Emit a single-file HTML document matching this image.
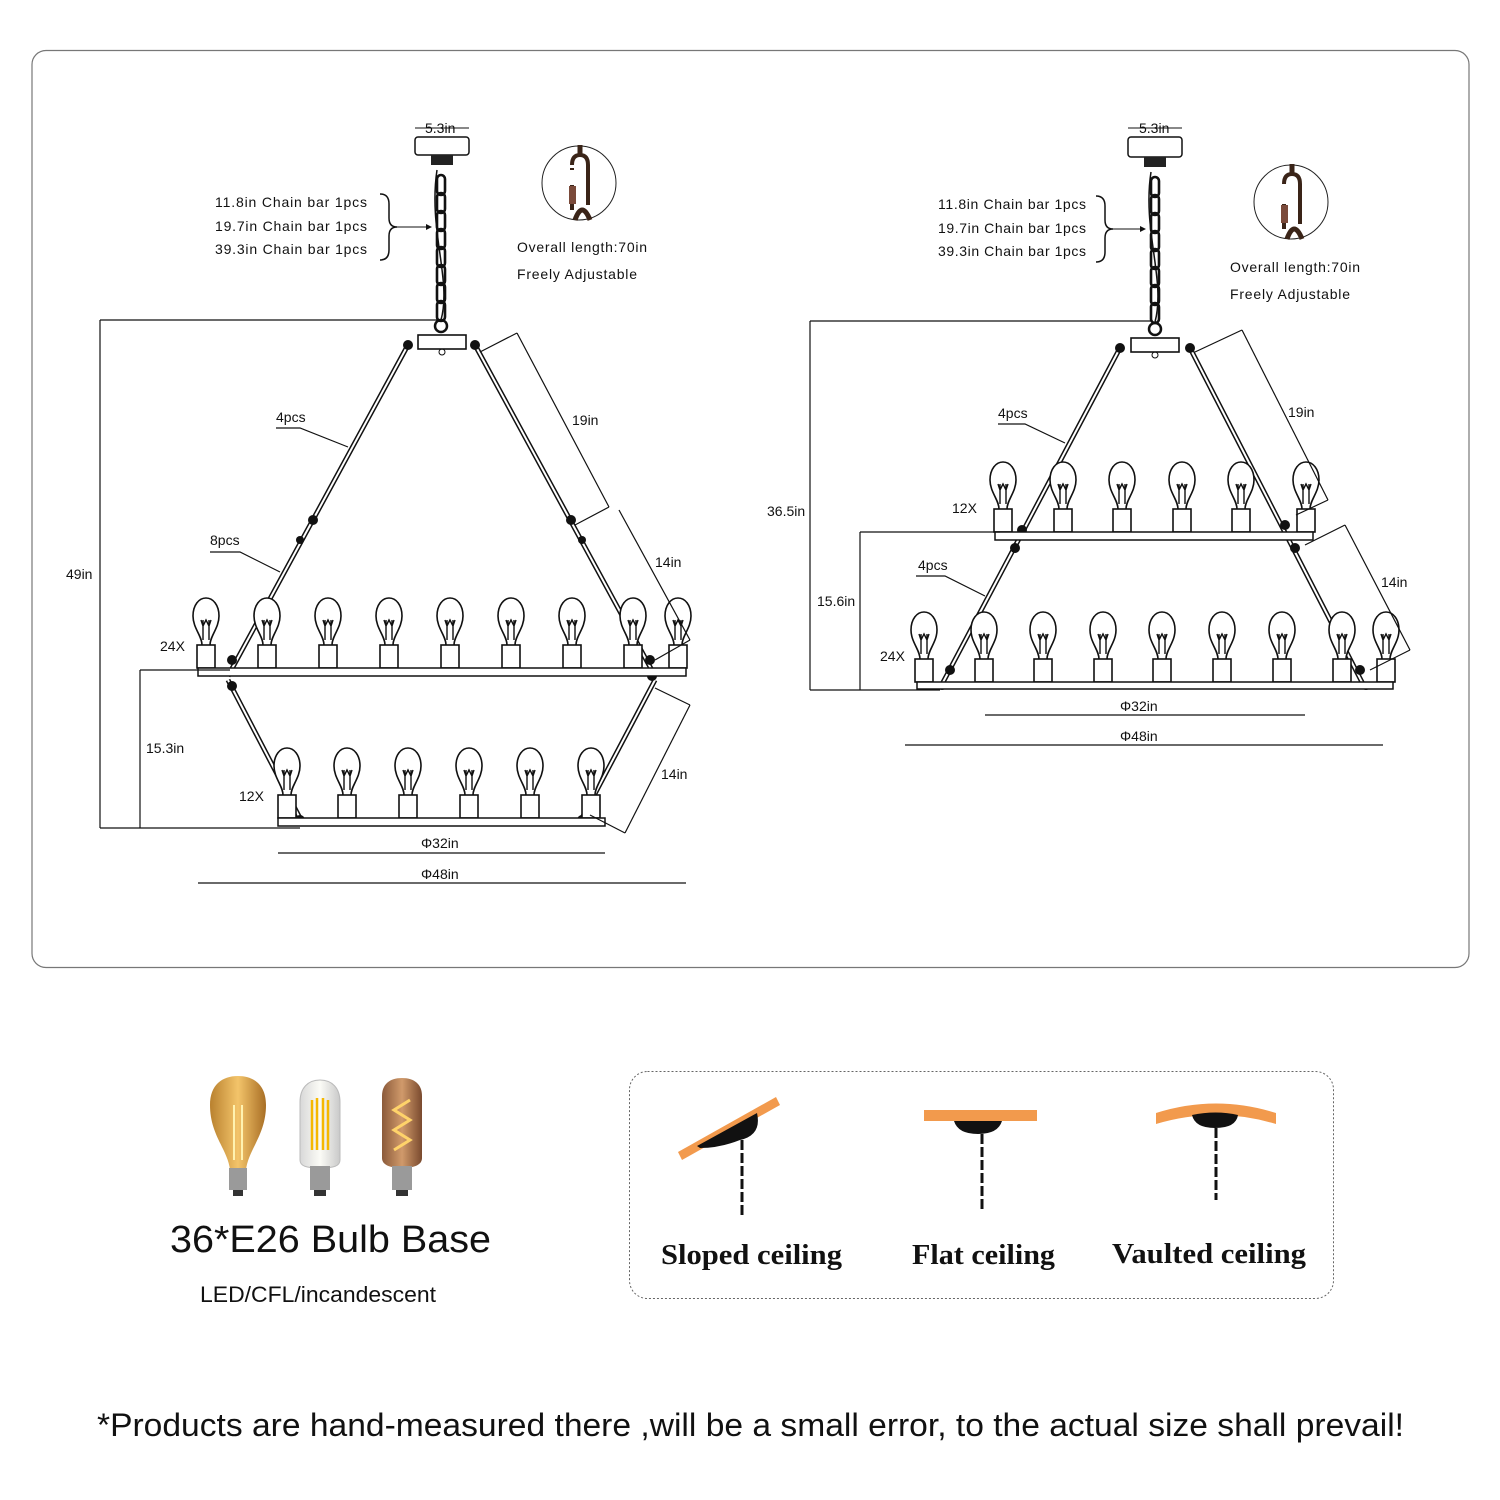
<!DOCTYPE html>
<html><head><meta charset="utf-8"><style>
html,body{margin:0;padding:0;background:#fff}
svg{display:block}
text{font-family:"Liberation Sans",sans-serif;fill:#111}
</style></head><body>
<svg width="1500" height="1500" viewBox="0 0 1500 1500" xmlns="http://www.w3.org/2000/svg">
<defs>
<g id="b" fill="none" stroke="#111" stroke-width="1.6">
<path d="M-4,-23 C-4,-32 -13,-40 -13,-52 C-13,-63 -7,-70 0,-70 C7,-70 13,-63 13,-52 C13,-40 4,-32 4,-23" fill="#fff"/>
<rect x="-9" y="-23" width="18" height="23" fill="#fff"/>
<path d="M-3,-28 L-3,-48 M3,-28 L3,-48 M-5,-48 L-3,-42 L0,-48 L3,-42 L5,-48" stroke-width="1.4"/>
</g>
<g id="ch" fill="none" stroke="#111" stroke-width="2.6">
<rect x="-4" y="0" width="8" height="20" rx="4"/>
</g>
<linearGradient id="amb" x1="0" x2="1"><stop offset="0" stop-color="#b9812f"/><stop offset=".5" stop-color="#f3c46a"/><stop offset="1" stop-color="#a86e25"/></linearGradient>
<linearGradient id="clr" x1="0" x2="1"><stop offset="0" stop-color="#d8d8d8"/><stop offset=".5" stop-color="#fbfbf6"/><stop offset="1" stop-color="#c9c9c9"/></linearGradient>
<linearGradient id="cop" x1="0" x2="1"><stop offset="0" stop-color="#8b5a3a"/><stop offset=".5" stop-color="#d09a6b"/><stop offset="1" stop-color="#7a4a2e"/></linearGradient>
</defs>

<rect x="32" y="50.5" width="1437" height="917" rx="14" fill="none" stroke="#777" stroke-width="1.2"/>

<!-- ============ LEFT DRAWING ============ -->
<g>
<line x1="415" y1="128" x2="469" y2="128" stroke="#111"/>
<text x="425" y="133" font-size="14">5.3in</text>
<rect x="415" y="137" width="54" height="18" rx="3" fill="#fff" stroke="#111" stroke-width="1.5"/>
<rect x="431" y="155" width="22" height="10" fill="#222"/>
<g transform="translate(441,175)"><use href="#ch"/><use href="#ch" y="36"/><use href="#ch" y="72"/><use href="#ch" y="108"/></g>
<g transform="translate(441,193)"><use href="#ch"/><use href="#ch" y="36"/><use href="#ch" y="72"/><use href="#ch" y="108"/></g>
<path d="M437,170 C428,230 452,280 441,320" fill="none" stroke="#111" stroke-width="1.5"/>
<circle cx="441" cy="326" r="6" fill="none" stroke="#111" stroke-width="2.5"/>
<rect x="418" y="335" width="48" height="14" fill="#fff" stroke="#111" stroke-width="1.6"/>
<circle cx="442" cy="352" r="3" fill="none" stroke="#111"/>
<g stroke="#111" stroke-width="5" fill="none"><line x1="408" y1="345" x2="228" y2="676"/><line x1="475" y1="345" x2="655" y2="676"/><line x1="228" y1="680" x2="302" y2="822"/><line x1="655" y1="680" x2="580" y2="822"/></g>
<g stroke="#fff" stroke-width="2" fill="none"><line x1="408" y1="345" x2="228" y2="676"/><line x1="475" y1="345" x2="655" y2="676"/><line x1="228" y1="680" x2="302" y2="822"/><line x1="655" y1="680" x2="580" y2="822"/></g>
<g fill="#111"><circle cx="408" cy="345" r="5"/><circle cx="475" cy="345" r="5"/><circle cx="313" cy="520" r="5"/><circle cx="571" cy="520" r="5"/><circle cx="300" cy="540" r="4"/><circle cx="582" cy="540" r="4"/><circle cx="232" cy="660" r="5"/><circle cx="650" cy="660" r="5"/><circle cx="232" cy="686" r="5"/><circle cx="652" cy="676" r="5"/><circle cx="300" cy="820" r="5"/><circle cx="582" cy="820" r="5"/></g>
<g><use href="#b" x="206" y="668"/><use href="#b" x="267" y="668"/><use href="#b" x="328" y="668"/><use href="#b" x="389" y="668"/><use href="#b" x="450" y="668"/><use href="#b" x="511" y="668"/><use href="#b" x="572" y="668"/><use href="#b" x="633" y="668"/><use href="#b" x="678" y="668"/></g>
<rect x="198" y="668" width="488" height="8" fill="#fff" stroke="#111" stroke-width="1.5"/>
<g><use href="#b" x="287" y="818"/><use href="#b" x="347" y="818"/><use href="#b" x="408" y="818"/><use href="#b" x="469" y="818"/><use href="#b" x="530" y="818"/><use href="#b" x="591" y="818"/></g>
<rect x="278" y="818" width="327" height="8" fill="#fff" stroke="#111" stroke-width="1.5"/>
<g stroke="#111" stroke-width="1.2">
<line x1="100" y1="320" x2="100" y2="828"/><line x1="100" y1="320" x2="440" y2="320"/><line x1="100" y1="828" x2="300" y2="828"/>
<line x1="140" y1="670" x2="140" y2="828"/><line x1="140" y1="670" x2="230" y2="670"/>
<line x1="517" y1="333" x2="609" y2="507"/><line x1="480" y1="352" x2="517" y2="333"/><line x1="575" y1="525" x2="609" y2="507"/>
<line x1="619" y1="510" x2="690" y2="640"/><line x1="655" y1="660" x2="690" y2="640"/>
<line x1="690" y1="705" x2="625" y2="833"/><line x1="655" y1="688" x2="690" y2="705"/><line x1="590" y1="815" x2="625" y2="833"/>
<line x1="278" y1="853" x2="605" y2="853"/><line x1="198" y1="883" x2="686" y2="883"/>
<polyline points="276,428 300,428 348,447" fill="none"/><polyline points="210,552 240,552 280,572" fill="none"/>
</g>
<text x="66" y="579" font-size="14">49in</text>
<text x="146" y="753" font-size="14">15.3in</text>
<text x="572" y="425" font-size="14">19in</text>
<text x="655" y="567" font-size="14">14in</text>
<text x="661" y="779" font-size="14">14in</text>
<text x="421" y="848" font-size="14">Φ32in</text>
<text x="421" y="879" font-size="14">Φ48in</text>
<text x="276" y="422" font-size="14">4pcs</text>
<text x="210" y="545" font-size="14">8pcs</text>
<text x="160" y="651" font-size="14">24X</text>
<text x="239" y="801" font-size="14">12X</text>
<text x="215" y="207" font-size="14" textLength="152" lengthAdjust="spacing">11.8in Chain bar  1pcs</text>
<text x="215" y="231" font-size="14" textLength="152" lengthAdjust="spacing">19.7in Chain bar  1pcs</text>
<text x="215" y="254" font-size="14" textLength="152" lengthAdjust="spacing">39.3in Chain bar  1pcs</text>
<path d="M380,194 Q389,194 389,204 L389,218 Q389,227 397,227 Q389,227 389,236 L389,250 Q389,260 380,260" fill="none" stroke="#111" stroke-width="1.5"/>
<line x1="397" y1="227" x2="426" y2="227" stroke="#111"/><path d="M426,224 L432,227 L426,230 Z" fill="#111"/>
<circle cx="579" cy="183" r="37" fill="none" stroke="#222"/>
<path d="M572,165 Q572,155 580,155 Q588,155 588,165 L588,205 M572,170 L572,168 M572,185 L572,210" fill="none" stroke="#3a2418" stroke-width="4"/>
<rect x="569" y="186" width="7" height="18" fill="#7a4a3a"/>
<path d="M580,145 L580,155 M575,220 Q582,200 590,220" stroke="#3a2418" stroke-width="5" fill="none"/>
<text x="517" y="252" font-size="14" textLength="130" lengthAdjust="spacing">Overall length:70in</text>
<text x="517" y="279" font-size="14" textLength="120" lengthAdjust="spacing">Freely Adjustable</text>
</g>

<!-- ============ RIGHT DRAWING ============ -->
<g>
<line x1="1128" y1="128" x2="1182" y2="128" stroke="#111"/>
<text x="1139" y="133" font-size="14">5.3in</text>
<rect x="1128" y="137" width="54" height="20" rx="3" fill="#fff" stroke="#111" stroke-width="1.5"/>
<rect x="1144" y="157" width="22" height="10" fill="#222"/>
<g transform="translate(1155,177)"><use href="#ch"/><use href="#ch" y="36"/><use href="#ch" y="72"/><use href="#ch" y="108"/></g>
<g transform="translate(1155,195)"><use href="#ch"/><use href="#ch" y="36"/><use href="#ch" y="72"/><use href="#ch" y="108"/></g>
<path d="M1151,172 C1142,230 1166,280 1155,322" fill="none" stroke="#111" stroke-width="1.5"/>
<circle cx="1155" cy="329" r="6" fill="none" stroke="#111" stroke-width="2.5"/>
<rect x="1131" y="338" width="48" height="14" fill="#fff" stroke="#111" stroke-width="1.6"/>
<circle cx="1155" cy="355" r="3" fill="none" stroke="#111"/>
<g stroke="#111" stroke-width="5" fill="none"><line x1="1120" y1="348" x2="940" y2="688"/><line x1="1190" y1="348" x2="1365" y2="688"/></g>
<g stroke="#fff" stroke-width="2" fill="none"><line x1="1120" y1="348" x2="940" y2="688"/><line x1="1190" y1="348" x2="1365" y2="688"/></g>
<g fill="#111"><circle cx="1120" cy="348" r="5"/><circle cx="1190" cy="348" r="5"/><circle cx="1022" cy="530" r="5"/><circle cx="1285" cy="525" r="5"/><circle cx="1015" cy="548" r="5"/><circle cx="1295" cy="548" r="5"/><circle cx="950" cy="670" r="5"/><circle cx="1360" cy="670" r="5"/><circle cx="942" cy="686" r="4"/><circle cx="1366" cy="686" r="4"/></g>
<g><use href="#b" x="1003" y="532"/><use href="#b" x="1063" y="532"/><use href="#b" x="1122" y="532"/><use href="#b" x="1182" y="532"/><use href="#b" x="1241" y="532"/><use href="#b" x="1306" y="532"/></g>
<rect x="995" y="532" width="318" height="8" fill="#fff" stroke="#111" stroke-width="1.5"/>
<g><use href="#b" x="924" y="682"/><use href="#b" x="984" y="682"/><use href="#b" x="1043" y="682"/><use href="#b" x="1103" y="682"/><use href="#b" x="1162" y="682"/><use href="#b" x="1222" y="682"/><use href="#b" x="1282" y="682"/><use href="#b" x="1342" y="682"/><use href="#b" x="1386" y="682"/></g>
<rect x="917" y="682" width="476" height="7" fill="#fff" stroke="#111" stroke-width="1.5"/>
<g stroke="#111" stroke-width="1.2">
<line x1="810" y1="321" x2="810" y2="690"/><line x1="810" y1="321" x2="1152" y2="321"/><line x1="810" y1="690" x2="940" y2="690"/>
<line x1="860" y1="532" x2="860" y2="690"/><line x1="860" y1="532" x2="1000" y2="532"/>
<line x1="1242" y1="330" x2="1328" y2="500"/><line x1="1195" y1="352" x2="1242" y2="330"/><line x1="1296" y1="515" x2="1328" y2="500"/>
<line x1="1345" y1="525" x2="1410" y2="650"/><line x1="1305" y1="545" x2="1345" y2="525"/><line x1="1370" y1="670" x2="1410" y2="650"/>
<line x1="985" y1="715" x2="1305" y2="715"/><line x1="905" y1="745" x2="1383" y2="745"/>
<polyline points="998,424 1025,424 1065,443" fill="none"/><polyline points="916,576 945,576 985,596" fill="none"/>
</g>
<text x="767" y="516" font-size="14">36.5in</text>
<text x="817" y="606" font-size="14">15.6in</text>
<text x="1288" y="417" font-size="14">19in</text>
<text x="1381" y="587" font-size="14">14in</text>
<text x="1120" y="711" font-size="14">Φ32in</text>
<text x="1120" y="741" font-size="14">Φ48in</text>
<text x="998" y="418" font-size="14">4pcs</text>
<text x="918" y="570" font-size="14">4pcs</text>
<text x="952" y="513" font-size="14">12X</text>
<text x="880" y="661" font-size="14">24X</text>
<text x="938" y="209" font-size="14" textLength="148" lengthAdjust="spacing">11.8in Chain bar  1pcs</text>
<text x="938" y="233" font-size="14" textLength="148" lengthAdjust="spacing">19.7in Chain bar  1pcs</text>
<text x="938" y="256" font-size="14" textLength="148" lengthAdjust="spacing">39.3in Chain bar  1pcs</text>
<path d="M1096,196 Q1105,196 1105,206 L1105,220 Q1105,229 1113,229 Q1105,229 1105,238 L1105,252 Q1105,262 1096,262" fill="none" stroke="#111" stroke-width="1.5"/>
<line x1="1113" y1="229" x2="1140" y2="229" stroke="#111"/><path d="M1140,226 L1146,229 L1140,232 Z" fill="#111"/>
<circle cx="1291" cy="202" r="37" fill="none" stroke="#222"/>
<path d="M1284,184 Q1284,174 1292,174 Q1300,174 1300,184 L1300,224 M1284,204 L1284,229" fill="none" stroke="#3a2418" stroke-width="4"/>
<rect x="1281" y="205" width="7" height="18" fill="#7a4a3a"/>
<path d="M1292,164 L1292,174 M1287,239 Q1294,219 1302,239" stroke="#3a2418" stroke-width="5" fill="none"/>
<text x="1230" y="272" font-size="14" textLength="130" lengthAdjust="spacing">Overall length:70in</text>
<text x="1230" y="299" font-size="14" textLength="120" lengthAdjust="spacing">Freely Adjustable</text>
</g>

<!-- ============ BULBS ============ -->
<g>
<path d="M230,1170 C228,1150 210,1135 210,1105 C210,1085 222,1076 238,1076 C254,1076 266,1085 266,1105 C266,1135 248,1150 246,1170 Z" fill="url(#amb)"/>
<rect x="229" y="1168" width="18" height="22" fill="#9a9a9a"/><rect x="233" y="1190" width="10" height="6" fill="#333"/>
<path d="M234,1160 L234,1105 M242,1160 L242,1105" stroke="#fff2b0" stroke-width="2"/>
<path d="M300,1102 C300,1088 308,1080 320,1080 C332,1080 340,1088 340,1102 L340,1160 C340,1166 334,1168 320,1168 C306,1168 300,1166 300,1160 Z" fill="url(#clr)" stroke="#bbb"/>
<path d="M312,1150 L312,1100 M317,1150 L317,1098 M323,1150 L323,1098 M328,1150 L328,1100" stroke="#f5b800" stroke-width="2.5"/>
<rect x="310" y="1166" width="20" height="24" fill="#9a9a9a"/><rect x="314" y="1190" width="12" height="6" fill="#333"/>
<path d="M382,1096 C382,1084 390,1078 402,1078 C414,1078 422,1084 422,1096 L422,1158 C422,1164 416,1168 402,1168 C388,1168 382,1164 382,1158 Z" fill="url(#cop)"/>
<path d="M394,1150 L410,1140 L394,1130 L410,1120 L394,1110 L410,1100" stroke="#ffd36a" stroke-width="3" fill="none"/>
<rect x="392" y="1166" width="20" height="24" fill="#9a9a9a"/><rect x="396" y="1190" width="12" height="6" fill="#333"/>
</g>
<text x="170" y="1252" font-size="38" textLength="321" lengthAdjust="spacingAndGlyphs">36*E26 Bulb Base</text>
<text x="200" y="1302" font-size="22" textLength="236" lengthAdjust="spacingAndGlyphs">LED/CFL/incandescent</text>

<!-- ============ CEILINGS ============ -->
<rect x="629.5" y="1071.5" width="704" height="227" rx="18" fill="none" stroke="#666" stroke-dasharray="2,2"/>
<path d="M678,1152 L776,1097 L780,1105 L682,1160 Z" fill="#f29a4d"/>
<path d="M697,1146 L757,1113 Q762,1135 740,1140 Q720,1148 700,1148 Z" fill="#111"/>
<path d="M742,1140 L742,1218" stroke="#111" stroke-width="3" stroke-dasharray="10,3"/>
<rect x="924" y="1110" width="113" height="11" fill="#f29a4d"/>
<path d="M954,1121 L1002,1121 Q998,1134 978,1134 Q958,1134 954,1121 Z" fill="#111"/>
<path d="M982,1134 L982,1210" stroke="#111" stroke-width="3" stroke-dasharray="10,3"/>
<path d="M1156,1113 Q1216,1094 1276,1113 L1276,1124 Q1216,1106 1156,1124 Z" fill="#f29a4d"/>
<path d="M1192,1115 Q1216,1110 1238,1115 Q1236,1128 1215,1128 Q1195,1128 1192,1115 Z" fill="#111"/>
<path d="M1216,1128 L1216,1200" stroke="#111" stroke-width="3" stroke-dasharray="10,3"/>
<g font-size="28" font-weight="bold">
<text x="661" y="1264" style="font-family:'Liberation Serif',serif" textLength="181" lengthAdjust="spacingAndGlyphs">Sloped ceiling</text>
<text x="912" y="1264" style="font-family:'Liberation Serif',serif" textLength="143" lengthAdjust="spacingAndGlyphs">Flat ceiling</text>
<text x="1112" y="1263" style="font-family:'Liberation Serif',serif" textLength="194" lengthAdjust="spacingAndGlyphs">Vaulted ceiling</text>
</g>

<text x="97" y="1436" font-size="32" textLength="1307" lengthAdjust="spacingAndGlyphs">*Products are hand-measured there ,will be a small error, to the actual size shall prevail!</text>
</svg>
</body></html>
